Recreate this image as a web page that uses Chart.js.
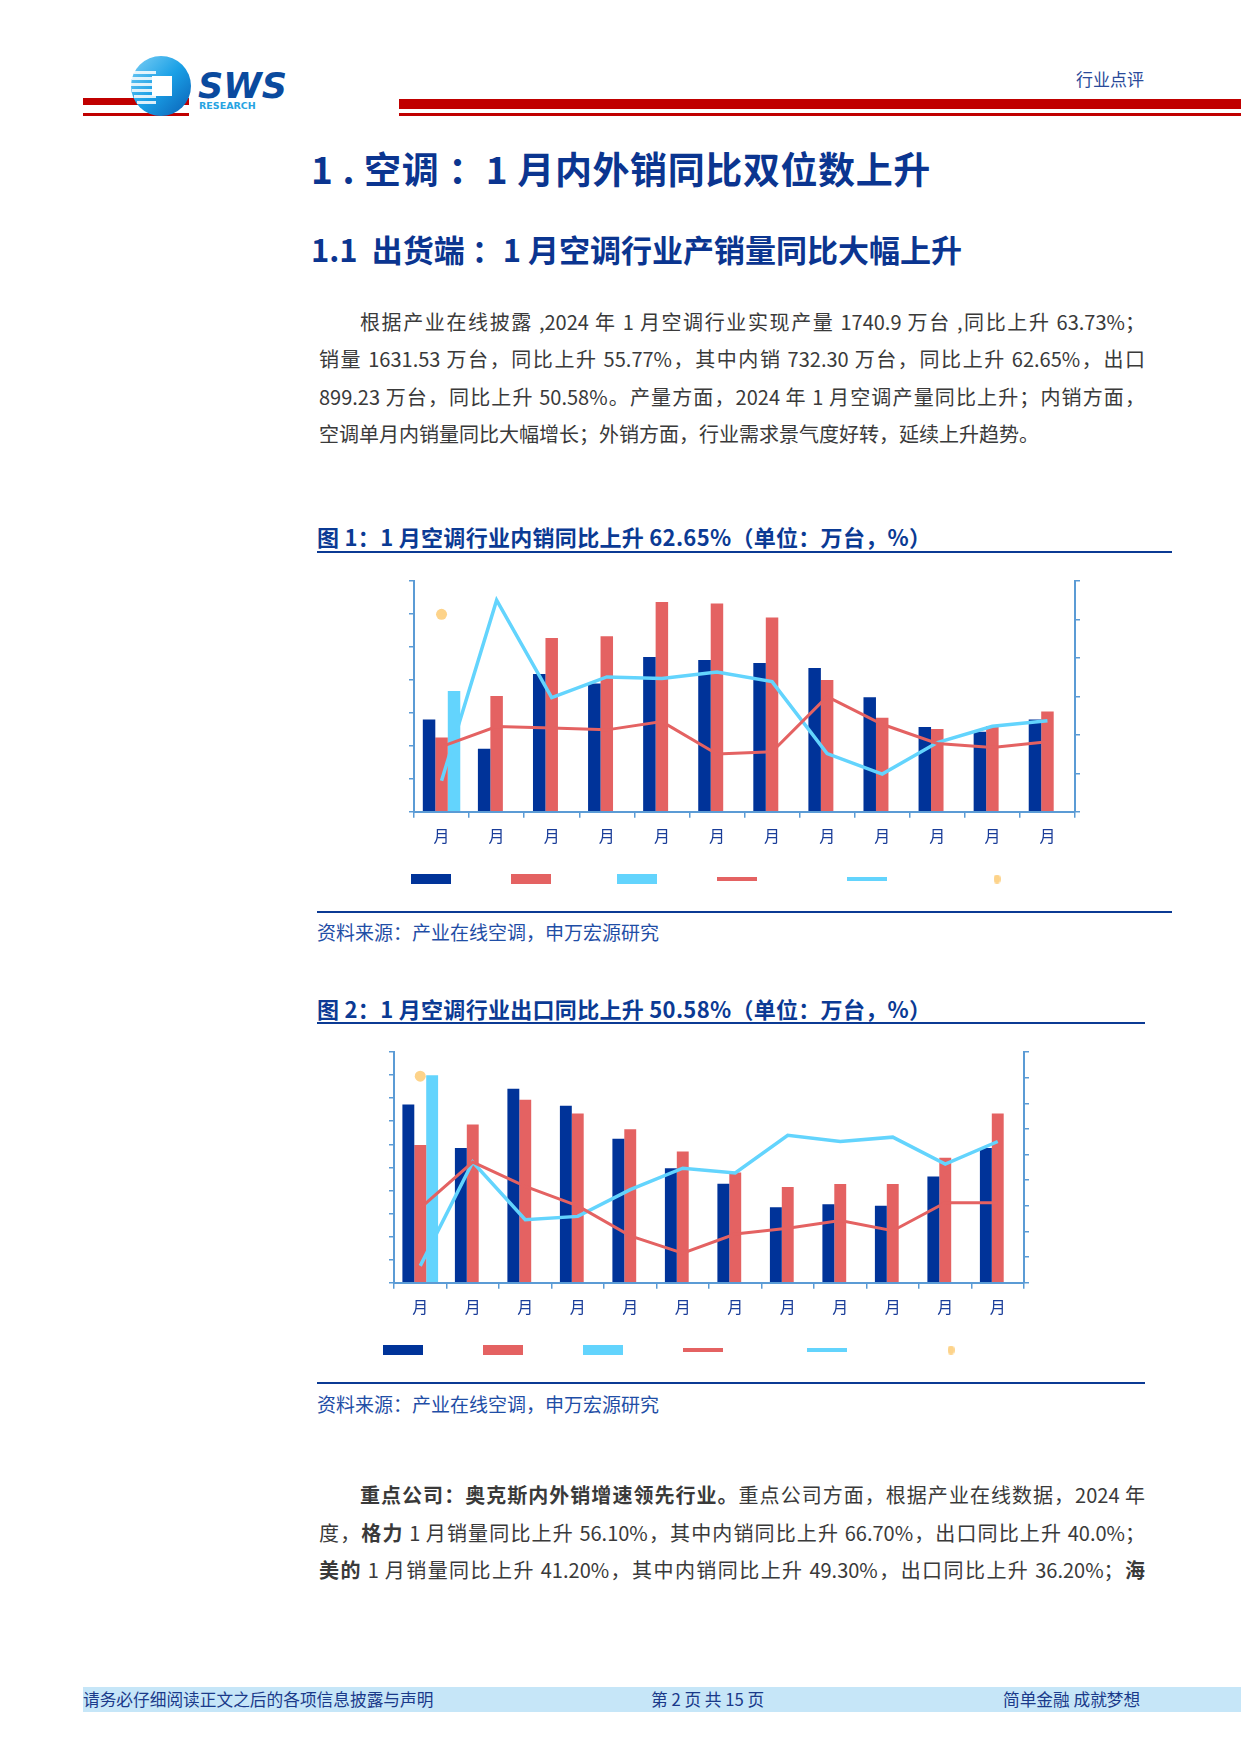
<!DOCTYPE html>
<html>
<head>
<meta charset="utf-8">
<script src="https://cdn.jsdelivr.net/npm/chart.js@4/dist/chart.umd.min.js"></script>
<style>
  body { margin: 0; width: 1241px; height: 1755px; position: relative; background: #fff; overflow: hidden;
         font-family: "Noto Sans CJK SC", "Noto Sans", sans-serif; }
  .abs { position: absolute; white-space: nowrap; }
  .h1 { left: 311px; top: 145px; font-size: 37px; line-height: 46px; font-weight: 700; color: #0b3590; letter-spacing: 0.6px; }
  .h2 { left: 311px; top: 229px; font-size: 31px; line-height: 40px; font-weight: 700; color: #0b3590; }
  .p { left: 319px; width: 826px; font-size: 20px; line-height: 30px; color: #3a3a3a; text-align: justify; text-align-last: justify; }
  .p.first { left: 360px; width: 785px; }
  .p.last { text-align-last: left; }
  .figt { left: 317px; font-size: 22px; line-height: 30px; font-weight: 700; color: #0b3a94; letter-spacing: 0.3px; }
  .src { left: 317px; font-size: 19px; line-height: 26px; color: #1f4ea6; }
  .rule { position: absolute; background: #0b3a94; height: 2px; }
  .red { position: absolute; background: #c00000; }
  .foot { font-size: 16.7px; line-height: 25px; color: #1a3a8a; top: 1687px; }
  canvas { position: absolute; }
</style>
</head>
<body>

<!-- header -->
<div class="red" style="left:83px;top:98px;width:106px;height:7px"></div>
<div class="red" style="left:83px;top:113px;width:106px;height:3px"></div>
<div class="red" style="left:399px;top:99px;width:842px;height:10px"></div>
<div class="red" style="left:399px;top:113px;width:842px;height:3px"></div>
<svg class="abs" style="left:128px;top:54px" width="160" height="66" viewBox="0 0 160 66">
  <defs>
    <linearGradient id="rg" x1="0" y1="0" x2="1" y2="1">
      <stop offset="0" stop-color="#7fd0f5"/>
      <stop offset="0.5" stop-color="#1aa0e6"/>
      <stop offset="1" stop-color="#0a5fb5"/>
    </linearGradient>
  </defs>
  <circle cx="33" cy="32" r="30" fill="url(#rg)"/>
  <g fill="#ffffff" opacity="0.85">
    <rect x="6" y="17" width="22" height="3"/>
    <rect x="4" y="23" width="24" height="3"/>
    <rect x="3" y="29" width="25" height="3"/>
    <rect x="4" y="35" width="24" height="3"/>
    <rect x="6" y="41" width="22" height="3"/>
    <rect x="9" y="47" width="19" height="3"/>
  </g>
  <rect x="24" y="22" width="20" height="20" fill="#ffffff"/>
  <text x="70" y="44" font-family="DejaVu Sans" font-weight="bold" font-style="italic" font-size="35" fill="#0a4a9e">SWS</text>
  <text x="71" y="55" font-family="DejaVu Sans" font-weight="bold" font-size="9.5" fill="#27a3e2">RESEARCH</text>
</svg>
<div class="abs" style="left:1076px;top:67px;font-size:17px;line-height:24px;color:#2a4a9a">行业点评</div>

<!-- headings -->
<div class="abs h1">1 . 空调 ：1 月内外销同比双位数上升</div>
<div class="abs h2">1.1&nbsp;&nbsp;出货端 ：1 月空调行业产销量同比大幅上升</div>

<div class="abs p first" style="top:307px">根据产业在线披露 ,2024 年 1 月空调行业实现产量 1740.9 万台 ,同比上升 63.73%；</div>
<div class="abs p" style="top:344px">销量 1631.53 万台，同比上升 55.77%，其中内销 732.30 万台，同比上升 62.65%，出口</div>
<div class="abs p" style="top:382px">899.23 万台，同比上升 50.58%。产量方面，2024 年 1 月空调产量同比上升；内销方面，</div>
<div class="abs p last" style="top:419px">空调单月内销量同比大幅增长；外销方面，行业需求景气度好转，延续上升趋势。</div>

<!-- figure 1 -->
<div class="abs figt" style="top:521px">图 1：1 月空调行业内销同比上升 62.65%（单位：万台，%）</div>
<div class="rule" style="left:317px;top:551px;width:855px"></div>
<canvas id="chart1" width="855" height="335" style="left:317px;top:560px"></canvas>
<div class="rule" style="left:317px;top:911px;width:855px"></div>
<div class="abs src" style="top:919px">资料来源：产业在线空调，申万宏源研究</div>

<!-- figure 2 -->
<div class="abs figt" style="top:993px">图 2：1 月空调行业出口同比上升 50.58%（单位：万台，%）</div>
<div class="rule" style="left:317px;top:1022px;width:828px"></div>
<canvas id="chart2" width="828" height="335" style="left:317px;top:1031px"></canvas>
<div class="rule" style="left:317px;top:1382px;width:828px"></div>
<div class="abs src" style="top:1391px">资料来源：产业在线空调，申万宏源研究</div>

<div class="abs p first" style="top:1480px"><b>重点公司：奥克斯内外销增速领先行业。</b>重点公司方面，根据产业在线数据，2024 年</div>
<div class="abs p" style="top:1518px">度，<b>格力</b> 1 月销量同比上升 56.10%，其中内销同比上升 66.70%，出口同比上升 40.0%；</div>
<div class="abs p" style="top:1555px"><b>美的</b> 1 月销量同比上升 41.20%，其中内销同比上升 49.30%，出口同比上升 36.20%；<b>海</b></div>

<!-- footer -->
<div class="abs" style="left:83px;top:1687px;width:1158px;height:25px;background:#c6e6f8"></div>
<div class="abs foot" style="left:83px">请务必仔细阅读正文之后的各项信息披露与声明</div>
<div class="abs foot" style="left:651px">第 2 页 共 15 页</div>
<div class="abs foot" style="left:1003px">简单金融 成就梦想</div>

<script>
// x axis labels (the month numbers are not shown in the source)
var months = ["月", "月", "月", "月", "月", "月", "月", "月", "月", "月", "月", "月"];

// chart 1: domestic sales (万台) and yoy (%)
var dom2022 = [560, 382, 836, 778, 939, 921, 903, 873, 695, 515, 485, 560];
var dom2023 = [450, 703, 1055, 1065, 1273, 1263, 1178, 800, 570, 503, 521, 608];
var dom2024 = [732.30, null, null, null, null, null, null, null, null, null, null, null];
var domYoy2022 = [-6.1, 4.3, 3.6, 2.6, 6.9, -10.0, -8.8, 19.9, 5.5, -4.5, -6.6, -3.6];
var domYoy2023 = [-23.9, 70.0, 19.4, 30.1, 29.3, 32.7, 27.7, -9.7, -20.4, -4.0, 4.5, 7.3];
var domYoy2024 = [62.65, null, null, null, null, null, null, null, null, null, null, null];

// chart 2: exports (万台) and yoy (%)
var exp2022 = [773, 584, 841, 767, 624, 496, 429, 327, 340, 334, 461, 584];
var exp2023 = [597, 686, 793, 733, 665, 569, 478, 415, 428, 428, 542, 733];
var exp2024 = [899.23, null, null, null, null, null, null, null, null, null, null, null];
var expYoy2022 = [-0.9, 17.1, 7.6, 0.0, -11.7, -18.4, -11.0, -8.7, -5.7, -9.7, 1.2, 1.2];
var expYoy2023 = [-23.4, 17.1, -5.4, -4.1, 6.3, 14.7, 12.8, 27.5, 25.1, 26.8, 16.3, 25.1];
var expYoy2024 = [50.58, null, null, null, null, null, null, null, null, null, null, null];

var DARK = "#003399";
var RED = "#e46262";
var LBLUE = "#63d4fd";
var ORANGE = "#fdd38a";
var AXIS = "#5b9bd5";

// small dot for the legend
var dot = document.createElement("canvas");
dot.width = 7; dot.height = 9;
var dctx = dot.getContext("2d");
dctx.fillStyle = ORANGE;
dctx.beginPath();
dctx.ellipse(3.5, 4.5, 3.5, 4.5, 0, 0, Math.PI * 2);
dctx.fill();

function spaces(n) { return "\u2002".repeat(n); }

function legendItems(gaps) {
  return [
    { text: spaces(gaps[0]), pointStyle: "rect", fillStyle: DARK, strokeStyle: DARK, lineWidth: 0, datasetIndex: 0 },
    { text: spaces(gaps[1]), pointStyle: "rect", fillStyle: RED, strokeStyle: RED, lineWidth: 0, datasetIndex: 1 },
    { text: spaces(gaps[2]), pointStyle: "rect", fillStyle: LBLUE, strokeStyle: LBLUE, lineWidth: 0, datasetIndex: 2 },
    { text: spaces(gaps[3]), pointStyle: "line", fillStyle: RED, strokeStyle: RED, lineWidth: 4, datasetIndex: 3 },
    { text: spaces(gaps[4]), pointStyle: "line", fillStyle: LBLUE, strokeStyle: LBLUE, lineWidth: 4, datasetIndex: 4 },
    { text: "", pointStyle: dot, fillStyle: ORANGE, strokeStyle: ORANGE, lineWidth: 0, datasetIndex: 5 }
  ];
}

function makeChart(id, bars1, bars2, bars3, line1, line2, dotVals, leftMax, leftStep, rMin, rMax, rStep, pad, leftW, gaps) {
  return new Chart(document.getElementById(id), {
    type: "bar",
    data: {
      labels: months,
      datasets: [
        { label: "2022", data: bars1, backgroundColor: DARK, yAxisID: "y", order: 2 },
        { label: "2023", data: bars2, backgroundColor: RED, yAxisID: "y", order: 2 },
        { label: "2024", data: bars3, backgroundColor: LBLUE, yAxisID: "y", order: 2 },
        { type: "line", label: "2022 yoy", data: line1, borderColor: RED, borderWidth: 3, pointRadius: 0, tension: 0, yAxisID: "y1", order: 1 },
        { type: "line", label: "2023 yoy", data: line2, borderColor: LBLUE, borderWidth: 3.5, pointRadius: 0, tension: 0, yAxisID: "y1", order: 1 },
        { type: "line", label: "2024 yoy", data: dotVals, showLine: false, pointRadius: 5.5, pointBorderWidth: 0,
          pointBackgroundColor: ORANGE, borderColor: ORANGE, yAxisID: "y1", order: 0 }
      ]
    },
    options: {
      responsive: false,
      animation: false,
      layout: { padding: pad },
      datasets: { bar: { categoryPercentage: 0.68, barPercentage: 1 } },
      plugins: {
        tooltip: { enabled: false },
        legend: {
          position: "bottom",
          align: "start",
          labels: {
            usePointStyle: true,
            pointStyleWidth: 40,
            boxHeight: 10,
            padding: 18,
            font: { size: 12, family: "DejaVu Sans" },
            generateLabels: function () { return legendItems(gaps); }
          }
        }
      },
      scales: {
        x: {
          offset: true,
          grid: { offset: true, drawOnChartArea: false, tickLength: 6, color: AXIS, lineWidth: 1.5 },
          border: { color: AXIS, width: 2 },
          ticks: { color: "#1a3d99", font: { size: 16, family: "Noto Sans CJK SC" }, padding: 9, maxRotation: 0, autoSkip: false }
        },
        y: {
          position: "left",
          min: 0, max: leftMax,
          ticks: { display: false, stepSize: leftStep },
          grid: { drawOnChartArea: false, tickLength: 5, color: AXIS, lineWidth: 1.5 },
          border: { color: AXIS, width: 2 },
          afterFit: function (axis) { axis.width = leftW; }
        },
        y1: {
          position: "right",
          min: rMin, max: rMax,
          ticks: { display: false, stepSize: rStep },
          grid: { drawOnChartArea: false, tickLength: 5, color: AXIS, lineWidth: 1.5 },
          border: { color: AXIS, width: 2 }
        }
      }
    }
  });
}

makeChart("chart1", dom2022, dom2023, dom2024, domYoy2022, domYoy2023, domYoy2024,
  1400, 200, -40, 80, 20,
  { left: 76, right: 92, top: 21, bottom: 0 }, 21, [6, 7, 6, 11, 11]);

makeChart("chart2", exp2022, exp2023, exp2024, expYoy2022, expYoy2023, expYoy2024,
  1000, 100, -30, 60, 10,
  { left: 48, right: 116, top: 21, bottom: 0 }, 29, [6, 6, 6, 10, 10]);
</script>
</body>
</html>
